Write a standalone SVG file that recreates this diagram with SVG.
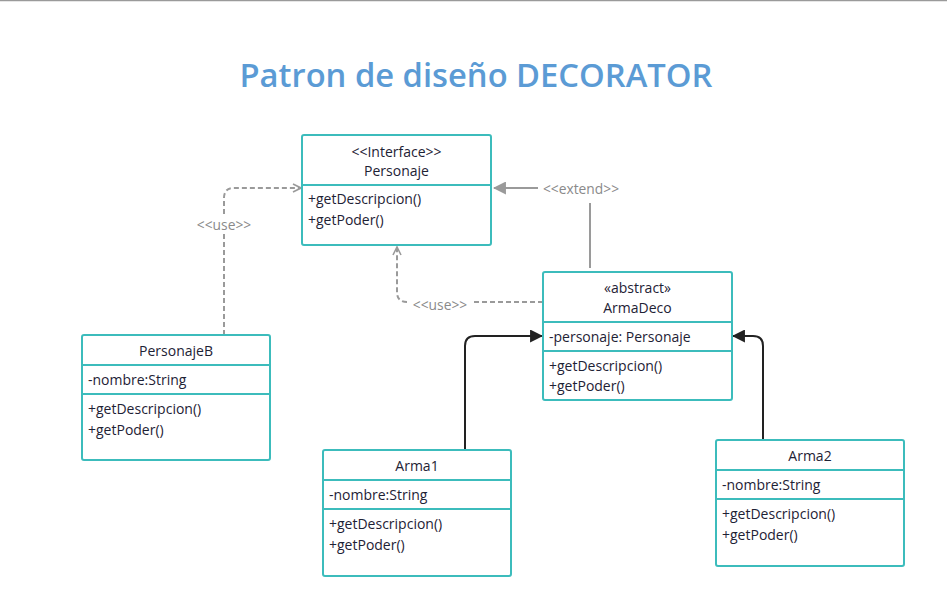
<svg xmlns="http://www.w3.org/2000/svg" width="947" height="601" viewBox="0 0 947 601">
<defs>
<style>
.box{fill:#fff;stroke:#3cbcbc;stroke-width:2}
.div{stroke:#3cbcbc;stroke-width:2}
.t{font-family:"Open Sans","Noto Sans",sans-serif;font-size:14px;fill:#1e2235}
.c{text-anchor:middle}
.lbl{font-family:"Open Sans","Noto Sans",sans-serif;font-size:13.8px;fill:#8a8a8a;text-anchor:middle}
.dash{fill:none;stroke:#9a9a9a;stroke-width:2;stroke-dasharray:5 3}
.gray{fill:none;stroke:#9a9a9a;stroke-width:2}
.blk{fill:none;stroke:#222;stroke-width:2}
</style>
<marker id="open" viewBox="0 0 10 10" refX="9" refY="5" markerWidth="10" markerHeight="10" markerUnits="userSpaceOnUse" orient="auto">
<path d="M1,1 L9,5 L1,9" fill="none" stroke="#9a9a9a" stroke-width="1.6"/>
</marker>
<marker id="fillg" viewBox="0 0 12 12" refX="11" refY="6" markerWidth="13" markerHeight="13" markerUnits="userSpaceOnUse" orient="auto">
<path d="M0,0 L12,6 L0,12 Z" fill="#9a9a9a"/>
</marker>
<marker id="fillb" viewBox="0 0 12 12" refX="11" refY="6" markerWidth="13" markerHeight="13" markerUnits="userSpaceOnUse" orient="auto">
<path d="M0,0 L12,6 L0,12 Z" fill="#222"/>
</marker>
</defs>
<rect width="947" height="601" fill="#fff"/>
<line x1="0" y1="0.5" x2="947" y2="0.5" stroke="#9a9a9a" stroke-width="1.5"/>
<text x="476" y="87" text-anchor="middle" font-family="Open Sans, Noto Sans, sans-serif" font-size="33" font-weight="600" fill="#5b9bd5" textLength="473" lengthAdjust="spacingAndGlyphs">Patron de diseño DECORATOR</text>

<g id="connectors">
<path class="dash" d="M224,335 L224,234"/>
<path class="dash" d="M224,214 L224,198 Q224,188 234,188 L301,188" marker-end="url(#open)"/>
<text class="lbl" x="224" y="230">&lt;&lt;use&gt;&gt;</text>
<path class="dash" d="M543,302 L474,302"/>
<path class="dash" d="M407,302 Q397,302 397,292 L397,247" marker-end="url(#open)"/>
<text class="lbl" x="440" y="310">&lt;&lt;use&gt;&gt;</text>
<path class="gray" d="M590,268 L590,203"/>
<path class="gray" d="M538,188 L494,188" marker-end="url(#fillg)"/>
<text class="lbl" x="581" y="194">&lt;&lt;extend&gt;&gt;</text>
<path class="blk" d="M465,450 L465,346 Q465,336 475,336 L542,336" marker-end="url(#fillb)"/>
<path class="blk" d="M763,440 L763,346 Q763,336 753,336 L733,336" marker-end="url(#fillb)"/>
</g>

<g id="Personaje">
<rect class="box" x="302" y="135" width="189" height="110" rx="2"/>
<line class="div" x1="302" y1="185" x2="491" y2="185"/>
<text class="t c" x="396.5" y="157">&lt;&lt;Interface&gt;&gt;</text>
<text class="t c" x="396.5" y="176">Personaje</text>
<text class="t" x="308" y="204">+getDescripcion()</text>
<text class="t" x="308" y="225">+getPoder()</text>
</g>

<g id="ArmaDeco">
<rect class="box" x="543" y="272" width="189" height="128" rx="2"/>
<line class="div" x1="543" y1="322" x2="732" y2="322"/>
<line class="div" x1="543" y1="351" x2="732" y2="351"/>
<text class="t c" x="637.5" y="293">«abstract»</text>
<text class="t c" x="637.5" y="313">ArmaDeco</text>
<text class="t" x="549" y="342">-personaje: Personaje</text>
<text class="t" x="549" y="371">+getDescripcion()</text>
<text class="t" x="549" y="391">+getPoder()</text>
</g>

<g id="PersonajeB">
<rect class="box" x="82" y="335" width="188" height="125" rx="2"/>
<line class="div" x1="82" y1="365" x2="270" y2="365"/>
<line class="div" x1="82" y1="394" x2="270" y2="394"/>
<text class="t c" x="176" y="356">PersonajeB</text>
<text class="t" x="88" y="385">-nombre:String</text>
<text class="t" x="88" y="414">+getDescripcion()</text>
<text class="t" x="88" y="435">+getPoder()</text>
</g>

<g id="Arma1">
<rect class="box" x="323" y="450" width="188" height="126" rx="2"/>
<line class="div" x1="323" y1="480" x2="511" y2="480"/>
<line class="div" x1="323" y1="509" x2="511" y2="509"/>
<text class="t c" x="417" y="471">Arma1</text>
<text class="t" x="329" y="500">-nombre:String</text>
<text class="t" x="329" y="529">+getDescripcion()</text>
<text class="t" x="329" y="550">+getPoder()</text>
</g>

<g id="Arma2">
<rect class="box" x="716" y="440" width="188" height="126" rx="2"/>
<line class="div" x1="716" y1="470" x2="904" y2="470"/>
<line class="div" x1="716" y1="499" x2="904" y2="499"/>
<text class="t c" x="810" y="461">Arma2</text>
<text class="t" x="722" y="490">-nombre:String</text>
<text class="t" x="722" y="519">+getDescripcion()</text>
<text class="t" x="722" y="540">+getPoder()</text>
</g>
</svg>
